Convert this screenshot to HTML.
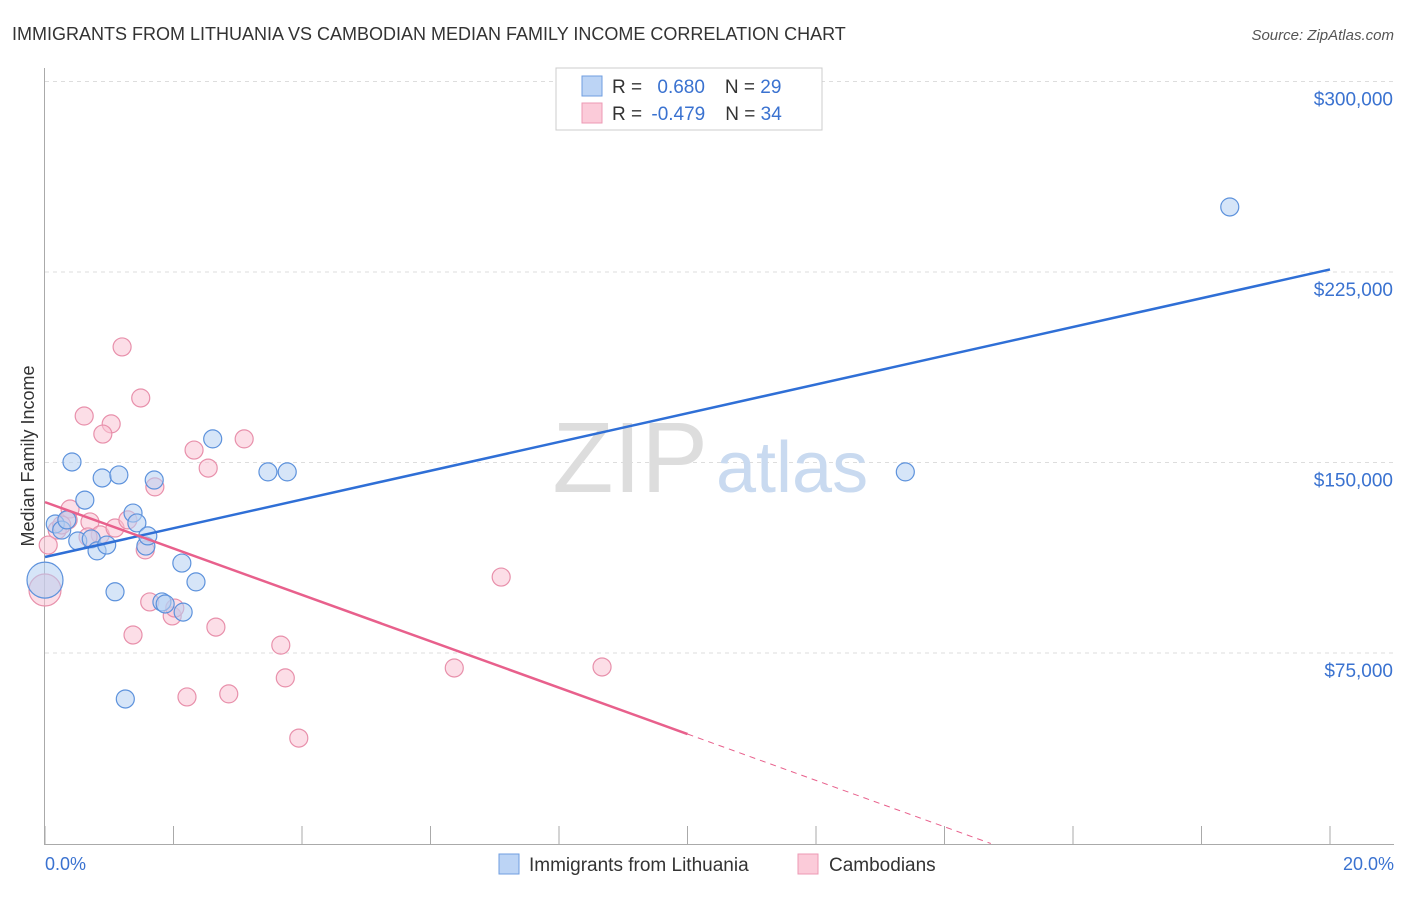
<!DOCTYPE html>
<html><head><meta charset="utf-8"><style>
body{margin:0;background:#fff;font-family:"Liberation Sans",sans-serif;}
svg text{font-family:"Liberation Sans",sans-serif;}
</style></head><body>
<svg id="chart" width="1406" height="892" viewBox="0 0 1406 892">
<text x="12" y="40" font-size="18" fill="#333">IMMIGRANTS FROM LITHUANIA VS CAMBODIAN MEDIAN FAMILY INCOME CORRELATION CHART</text>
<text x="1394" y="40" font-size="15" fill="#555" text-anchor="end" font-style="italic">Source: ZipAtlas.com</text>
<g id="grid"></g>
<text x="708" y="492" font-size="100" fill="#ddd" text-anchor="end" font-family="Liberation Serif">ZIP</text>
<text x="716" y="492" font-size="72" fill="#c9daf0">atlas</text>
<line x1="44.5" y1="68" x2="44.5" y2="845" stroke="#aaa"/>
<line x1="44" y1="844.5" x2="1394" y2="844.5" stroke="#aaa"/>
<text x="34" y="456" font-size="18" fill="#333" text-anchor="middle" transform="rotate(-90 34 456)">Median Family Income</text>
<text x="45" y="870" font-size="18" fill="#3a72d0">0.0%</text>
<text x="1394" y="870" font-size="18" fill="#3a72d0" text-anchor="end">20.0%</text>
<g id="marks"></g>
<g>
<rect x="556" y="68" width="266" height="62" fill="#fff" stroke="#ccc"/>
<rect x="582" y="76" width="20" height="20" fill="#bcd4f5" stroke="#6f9ee0"/>
<rect x="582" y="103" width="20" height="20" fill="#fbcbd9" stroke="#ec9ab4"/>
<text x="612" y="93" font-size="19" fill="#333">R = <tspan fill="#3a72d0" dx="10">0.680</tspan><tspan dx="20" fill="#333">N = </tspan><tspan fill="#3a72d0">29</tspan></text>
<text x="612" y="120" font-size="19" fill="#333">R = <tspan fill="#3a72d0" dx="4">-0.479</tspan><tspan dx="20" fill="#333">N = </tspan><tspan fill="#3a72d0">34</tspan></text>
</g>
<g>
<rect x="499" y="854" width="20" height="20" fill="#bcd4f5" stroke="#6f9ee0"/>
<text x="529" y="871" font-size="19" fill="#333">Immigrants from Lithuania</text>
<rect x="798" y="854" width="20" height="20" fill="#fbcbd9" stroke="#ec9ab4"/>
<text x="829" y="871" font-size="19" fill="#333">Cambodians</text>
</g>
</svg>
<script>
const yTicks=[75000,150000,225000,300000];
const yTickLabels=["$75,000","$150,000","$225,000","$300,000"];
const xTicks=[0,2,4,6,8,10,12,14,16,18,20];
const blueX=[0.42,0.62,0.89,1.15,1.70,2.61,3.47,3.77,13.39,18.44,0.16,0.26,0.34,0.51,0.72,0.81,0.96,1.37,1.43,1.57,1.60,2.13,2.35,1.09,1.82,1.87,2.15,1.25,0.0];
const blueY=[150200,135200,143900,145100,143100,159300,146300,146300,146300,250600,125800,123400,127400,119100,119900,115200,117500,130100,126200,117100,121100,110400,103000,99100,95100,94300,91100,56900,103700];
const blueR=[9,9,9,9,9,9,9,9,9,9,9,9,9,9,9,9,9,9,9,9,9,9,9,9,9,9,9,9,18];
const pinkX=[1.20,1.49,0.61,1.03,0.90,2.32,3.10,2.54,1.71,0.39,0.19,0.05,0.36,0.70,0.86,1.09,1.29,1.56,1.63,1.98,2.02,1.37,2.66,3.67,3.74,2.21,2.86,3.95,6.37,7.10,8.67,0.0,0.26,0.67];
const pinkY=[195500,175400,168300,165200,161200,154900,159300,147800,140400,131700,123400,117500,127400,126600,121500,124200,127400,115600,95100,89600,92700,82100,85200,78100,65200,57700,58900,41500,69100,104900,69500,99800,125400,120700];
const pinkR=[9,9,9,9,9,9,9,9,9,9,9,9,9,9,9,9,9,9,9,9,9,9,9,9,9,9,9,9,9,9,9,16,9,9];
const blueLine=[[0,112800],[20,226000]];
const pinkLine=[[0,134400],[10,43100]];
const pinkDash=[[10,43100],[14.72,0]];
const sx=p=>45+p/20*1285;
const sy=v=>653+(75000-v)*190.5/75000;
const NS="http://www.w3.org/2000/svg";
const grid=document.getElementById('grid'), marks=document.getElementById('marks');
function mk(tag,attrs,parent){const e=document.createElementNS(NS,tag);for(const k in attrs)e.setAttribute(k,attrs[k]);parent.appendChild(e);return e;}
yTicks.forEach((v,i)=>{
 const l=mk('line',{x1:45,x2:1394,y1:sy(v),y2:sy(v),stroke:'#ddd','stroke-dasharray':'4 4'},grid);
 
 
 const t=mk('text',{x:1393,y:sy(v)+24,'font-size':19,fill:'#3a72d0','text-anchor':'end'},grid);
 t.textContent=yTickLabels[i];
 
 
});
xTicks.forEach(p=>{
 const l=mk('line',{x1:sx(p),x2:sx(p),y1:826,y2:844,stroke:'#aaa'},grid);
 
 
});
function dots(X,Y,R,fill,stroke,name){
 X.forEach((x,i)=>{
  const c=mk('circle',{cx:sx(x),cy:sy(Y[i]),r:R[i],fill:fill,'fill-opacity':0.55,stroke:stroke,'stroke-width':1.2},marks);
  
  
 });
}
dots(pinkX,pinkY,pinkR,'#f9c3d3','#e890ab','cambodian-point');
dots(blueX,blueY,blueR,'#b4cff3','#5d92dc','lithuania-point');
function line(L,color,name,dash){
 const e=mk('line',{x1:sx(L[0][0]),y1:sy(L[0][1]),x2:sx(L[1][0]),y2:sy(L[1][1]),stroke:color,'stroke-width':dash?1:2.5},marks);
 if(dash)e.setAttribute('stroke-dasharray','6 5');
 
 
}
line(blueLine,'#2f6fd6','lithuania-trend-line');
line(pinkLine,'#e8608c','cambodian-trend-line');
line(pinkDash,'#e8608c','cambodian-trend-extension',true);
</script>
</body></html>
